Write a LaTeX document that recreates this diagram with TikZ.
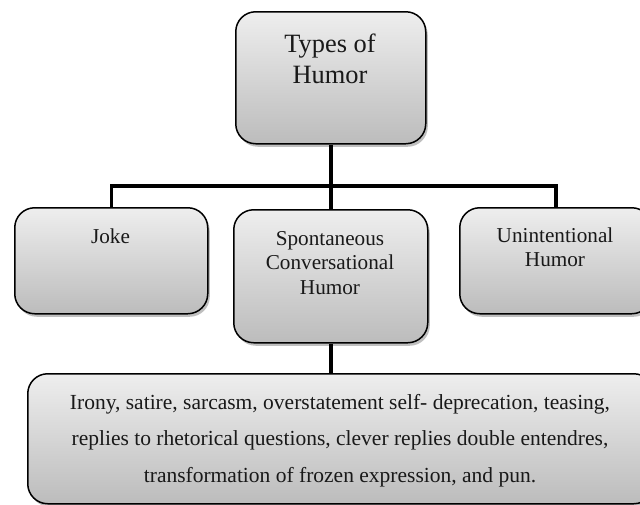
\documentclass[tikz,border=0pt]{standalone}
\usepackage{fontspec}
\setmainfont{Liberation Serif}
\usetikzlibrary{shadows}
\definecolor{boxtop}{RGB}{238,238,238}
\definecolor{boxbot}{RGB}{188,188,188}
\tikzset{
  hbox/.style={draw=black, line width=1.5pt, rounded corners=20pt,
    top color=boxtop, bottom color=boxbot, anchor=north west, inner sep=0pt,
    drop shadow={shadow xshift=2pt, shadow yshift=-3pt, opacity=0.25, fill=black}},
  conn/.style={draw=black, line width=3.5pt, line join=miter},
  btxt/.style={anchor=base, inner sep=0pt, align=center, text=black!90}
}
\begin{document}
\begin{tikzpicture}[x=1pt,y=-1pt]
\useasboundingbox (0,0) rectangle (640,504);
\clip (0,0) rectangle (640,504);
% boxes
\node[hbox, minimum width=190pt, minimum height=132pt] (top) at (235,11) {};
\node[hbox, minimum width=193pt, minimum height=106pt] (joke) at (14,207) {};
\node[hbox, minimum width=194pt, minimum height=133pt] (spont) at (233,209) {};
\node[hbox, minimum width=192pt, minimum height=106pt] (unint) at (459,207) {};
\node[hbox, minimum width=626pt, minimum height=130pt] (bot) at (27,373) {};
% connectors
\coordinate (hm) at (330,186);
\draw[conn] (joke.north) -- (joke.north |- hm) -- (unint.north |- hm) -- (unint.north);
\draw[conn] (top.south) -- (spont.north);
\draw[conn] (spont.south) -- (spont.south |- bot.north);
% texts (base anchor = baseline of the last line)
\node[btxt, font=\fontsize{26.4}{31}\selectfont] (ttop) at (330,83) {Types of\\Humor};
\node[btxt, font=\fontsize{21.2}{24.5}\selectfont] (tjoke) at (110.5,243) {Joke};
\node[btxt, font=\fontsize{21.2}{24.5}\selectfont] (tspont) at (330,294) {Spontaneous\\Conversational\\Humor};
\node[btxt, font=\fontsize{21.2}{24.5}\selectfont] (tunint) at (555,266.5) {Unintentional\\Humor};
\node[btxt, font=\fontsize{21.5}{36.5}\selectfont] (tbot) at (340,482) {Irony, satire, sarcasm, overstatement self- deprecation, teasing,\\replies to rhetorical questions, clever replies double entendres,\\transformation of frozen expression, and pun.};
\end{tikzpicture}
\end{document}
